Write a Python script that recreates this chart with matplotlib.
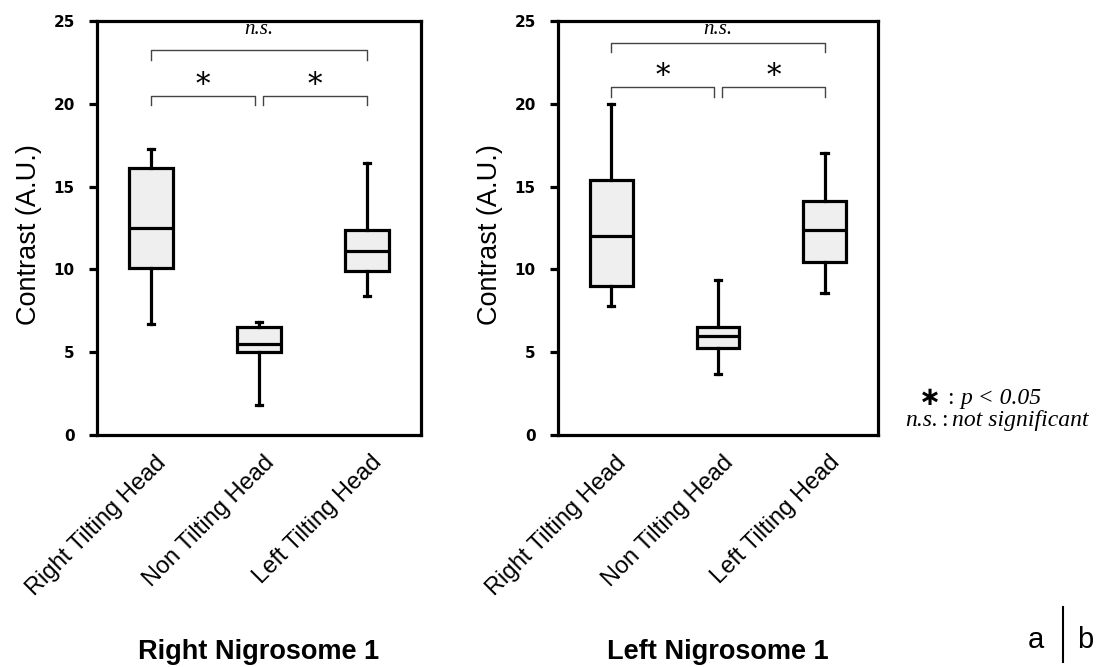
import matplotlib.pyplot as plt

groups = ['Right Tilting Head', 'Non Tilting Head', 'Left Tilting Head']
panels = ['Right Nigrosome 1', 'Left Nigrosome 1']

# box stats per panel: lower whisker, Q1, median, Q3, upper whisker
right_whislo = [6.7, 1.8, 8.4]
right_q1 = [10.1, 5.0, 9.9]
right_med = [12.5, 5.5, 11.1]
right_q3 = [16.1, 6.5, 12.4]
right_whishi = [17.3, 6.8, 16.4]

left_whislo = [7.8, 3.7, 8.6]
left_q1 = [9.0, 5.25, 10.45]
left_med = [12.0, 6.0, 12.35]
left_q3 = [15.4, 6.5, 14.15]
left_whishi = [20.0, 9.35, 17.0]

# significance brackets (height of bar)
right_star_y = 20.5
right_ns_y = 23.25
left_star_y = 21.0
left_ns_y = 23.7

fig = plt.figure(figsize=(10.96, 6.67), dpi=100)
ax1 = fig.add_axes([0.0885, 0.3478, 0.2956, 0.6207])
ax2 = fig.add_axes([0.509, 0.3478, 0.292, 0.6207])


def make_stats(lo, q1, med, q3, hi):
    return [dict(whislo=lo[i], q1=q1[i], med=med[i], q3=q3[i], whishi=hi[i],
                 fliers=[]) for i in range(len(lo))]


def bracket(ax, x1, x2, y, h, text, style):
    ax.plot([x1, x1, x2, x2], [y - h, y, y, y - h], color='#444444', lw=1.0)
    if style == 'star':
        ax.text((x1 + x2) / 2, y + 0.65, text, ha='center', va='center',
                fontsize=21, family='DejaVu Serif')
    else:
        ax.text((x1 + x2) / 2, 24.5, text, ha='center', va='center',
                fontsize=15, family='Liberation Serif', style='italic')


data = [(ax1, make_stats(right_whislo, right_q1, right_med, right_q3, right_whishi),
         right_star_y, right_ns_y, panels[0]),
        (ax2, make_stats(left_whislo, left_q1, left_med, left_q3, left_whishi),
         left_star_y, left_ns_y, panels[1])]

lw = 2.3
for ax, stats, star_y, ns_y, title in data:
    ax.bxp(stats, positions=[1, 2, 3], widths=0.4, capwidths=0.06,
           patch_artist=True, showfliers=False,
           boxprops=dict(facecolor='#efefef', edgecolor='black', linewidth=lw),
           medianprops=dict(color='black', linewidth=lw),
           whiskerprops=dict(color='black', linewidth=lw),
           capprops=dict(color='black', linewidth=lw))
    ax.set_xlim(0.5, 3.5)
    ax.set_ylim(0, 25)
    ax.set_yticks([0, 5, 10, 15, 20, 25])
    ax.set_xticks([1, 2, 3])
    ax.set_xticklabels([])
    # rotated group names, anchored a little right of each tick
    for i, g in enumerate(groups):
        ax.annotate(g, xy=(i + 1, 0), xycoords=('data', 'axes fraction'),
                    xytext=(8.6, -17.5), textcoords='offset points',
                    rotation=45, ha='right', va='center',
                    rotation_mode='anchor', fontsize=17,
                    family='Liberation Sans')
    ax.tick_params(axis='x', length=0)
    ax.tick_params(axis='y', length=6, width=lw, direction='out', pad=10)
    for lab in ax.get_yticklabels():
        lab.set_fontweight('bold')
        lab.set_fontsize(11)
    for sp in ax.spines.values():
        sp.set_linewidth(lw)
    ax.set_ylabel('Contrast (A.U.)', fontsize=19.5, family='Liberation Sans')
    ax.yaxis.set_label_coords(-0.17, 0.483)

    bracket(ax, 1, 1.96, star_y, 0.6, '*', 'star')
    bracket(ax, 2.04, 3, star_y, 0.6, '*', 'star')
    bracket(ax, 1, 3, ns_y, 0.6, 'n.s.', 'ns')

    # panel title under the axis labels
    x_fig = ax.get_position().x0 + ax.get_position().width * 0.5
    fig.text(x_fig, 0.022, title, ha='center', va='center', fontsize=19.5,
             fontweight='bold', family='Liberation Sans')

# key for the significance marks
serif = dict(fontsize=17, family='Liberation Serif', va='center')
fig.text(0.838, 0.403, '\u2217', fontsize=19, family='DejaVu Sans',
         fontweight='bold', ha='left', va='center')
fig.text(0.864, 0.403, ':', ha='left', **serif)
fig.text(0.876, 0.403, 'p < 0.05', ha='left', style='italic', **serif)
fig.text(0.826, 0.370, 'n.s.', ha='left', style='italic', **serif)
fig.text(0.859, 0.370, ':', ha='left', **serif)
fig.text(0.869, 0.370, 'not significant', ha='left', style='italic', **serif)

fig.text(0.945, 0.040, 'a', fontsize=21, family='Liberation Sans',
         ha='center', va='center')
fig.text(0.990, 0.040, 'b', fontsize=21, family='Liberation Sans',
         ha='center', va='center')
fig.add_artist(plt.Line2D([0.970, 0.970], [0.007, 0.090], color='black',
                          lw=1.5, transform=fig.transFigure))

fig.savefig('out.png', dpi=100)
